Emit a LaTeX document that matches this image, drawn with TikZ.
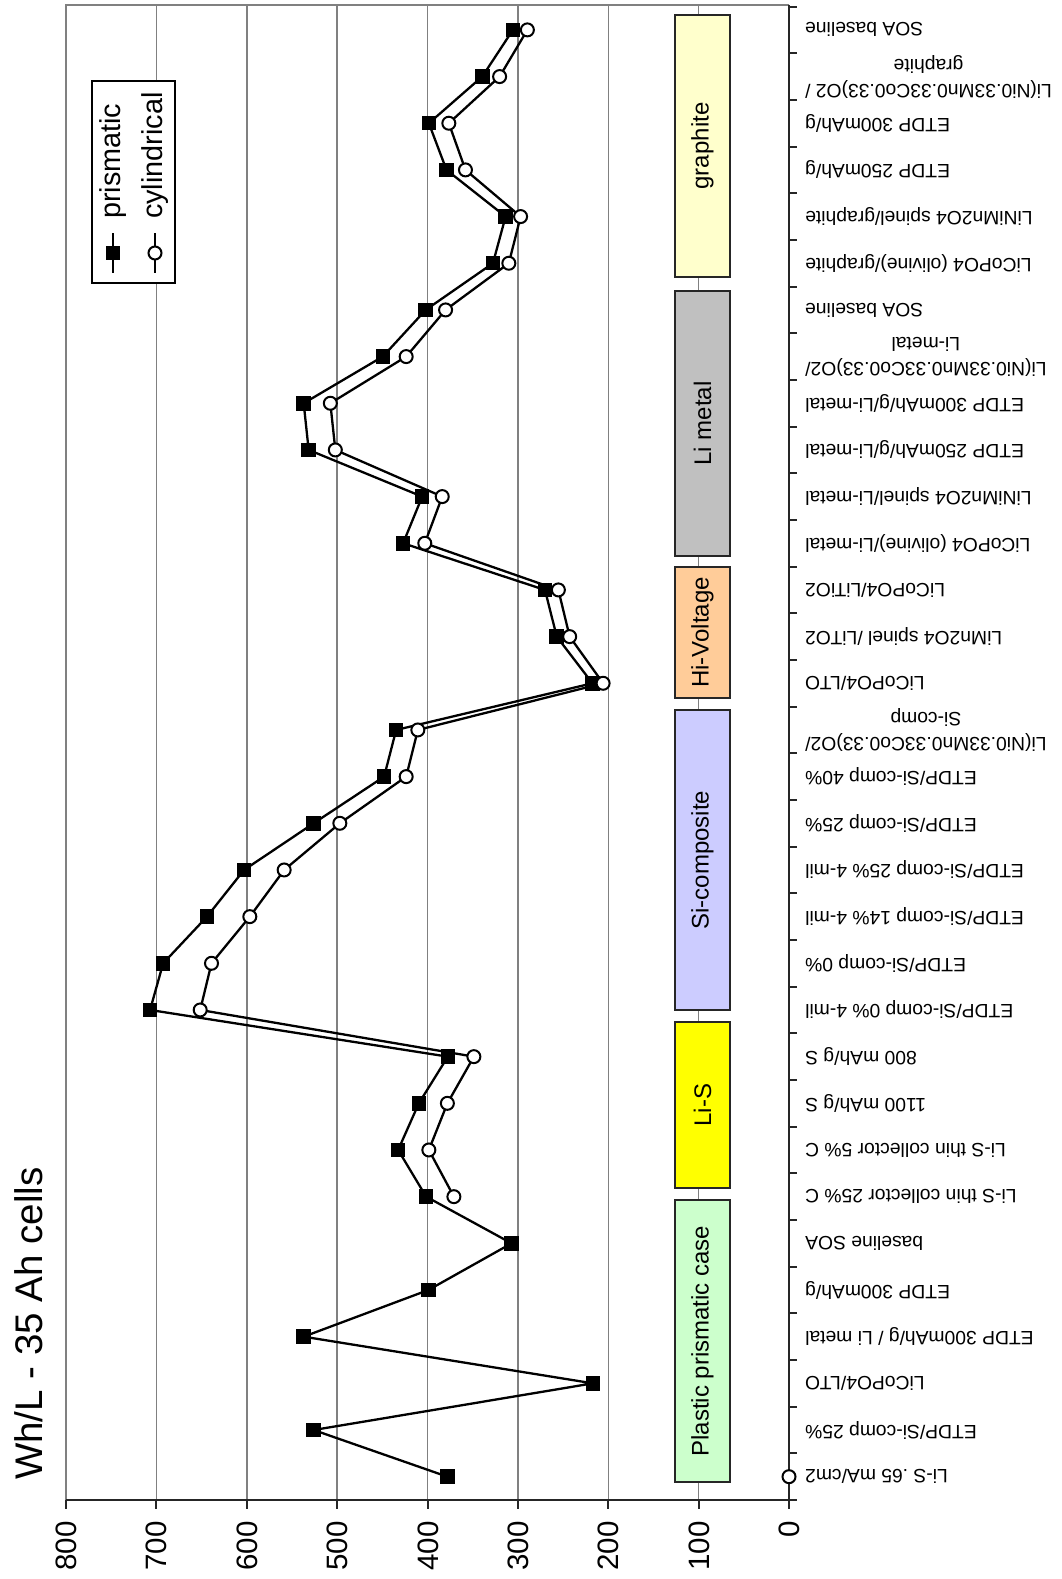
\documentclass[tikz,border=0pt]{standalone}
\usepackage{fontspec}
\setmainfont{Liberation Sans}
\definecolor{gridgray}{HTML}{808080}
\definecolor{cgraphite}{HTML}{FFFFCC}
\definecolor{climetal}{HTML}{C0C0C0}
\definecolor{chivolt}{HTML}{FFCC99}
\definecolor{csicomp}{HTML}{CCCCFF}
\definecolor{clis}{HTML}{FFFF00}
\definecolor{cplastic}{HTML}{CCFFCC}
\begin{document}
\begin{tikzpicture}[x=1pt,y=-1pt,
  gridline/.style={draw=gridgray,line width=1.5pt},
  axisline/.style={draw=black!85,line width=2pt},
  dataline/.style={draw=black,line width=2.3pt,line join=round},
  sqmark/.style={rectangle,fill=black,minimum size=14.5pt,inner sep=0pt},
  circmark/.style={circle,draw=black,fill=white,line width=2pt,minimum size=13pt,inner sep=0pt},
  groupbox/.style={rectangle,draw=black!85,line width=2pt,rotate=90,minimum height=55pt,inner sep=0pt,font=\fontsize{24}{28}\selectfont},
  catlabel/.style={rotate=180,anchor=east,align=center,inner sep=0pt,font=\fontsize{19.3}{25}\selectfont},
  vallabel/.style={rotate=90,anchor=base east,inner sep=0pt,font=\fontsize{29.5}{34}\selectfont},
  legtext/.style={rotate=90,anchor=west,inner sep=0pt,font=\fontsize{28.8}{34}\selectfont},
]
\useasboundingbox (0,0) rectangle (1062,1579);
\fill[white] (0,0) rectangle (1062,1579);
\def\xz{789}\def\sc{0.90375}\def\yb{1500}\def\ct{46.67}
% grid
\foreach \v in {100,200,...,700}
  \draw[gridline] ({\xz-\sc*\v},5) -- ({\xz-\sc*\v},\yb);
\draw[gridline] (66,\yb) -- (66,5) -- (\xz,5);
% axes
\draw[axisline] (\xz,5) -- (\xz,\yb);
\foreach \k in {0,...,32}
  \draw[axisline] (\xz,{\yb-\k*\ct}) -- ({\xz+8},{\yb-\k*\ct});
\draw[axisline] (66,\yb) -- (\xz,\yb);
\foreach \v in {0,100,...,800}{
  \draw[axisline] ({\xz-\sc*\v},\yb) -- ({\xz-\sc*\v},{\yb+9});
  \node[vallabel] (v\v) at ({\xz-\sc*\v+10.5},1521) {\v};
}
% category labels
\foreach \t [count=\i] in {
 {Li-S .65 mA/cm2},
 {ETDP/Si-comp 25\%},
 {LiCoPO4/LTO},
 {ETDP 300mAh/g / Li metal},
 {ETDP 300mAh/g},
 {baseline SOA},
 {Li-S thin collector 25\% C},
 {Li-S thin collector 5\% C},
 {1100 mAh/g S},
 {800 mAh/g S},
 {ETDP/Si-comp 0\% 4-mil},
 {ETDP/Si-comp 0\%},
 {ETDP/Si-comp 14\% 4-mil},
 {ETDP/Si-comp 25\% 4-mil},
 {ETDP/Si-comp 25\%},
 {ETDP/Si-comp 40\%},
 {Li(Ni0.33Mn0.33Co0.33)O2/\\Si-comp},
 {LiCoPO4/LTO},
 {LiMn2O4 spinel /LiTO2},
 {LiCoPO4/LiTiO2},
 {LiCoPO4 (olivine)/Li-metal},
 {LiNiMn2O4 spinel/Li-metal},
 {ETDP 250mAh/g/Li-metal},
 {ETDP 300mAh/g/Li-metal},
 {Li(Ni0.33Mn0.33Co0.33)O2/\\Li-metal},
 {SOA baseline},
 {LiCoPO4 (olivine)/graphite},
 {LiNiMn2O4 spinel/graphite},
 {ETDP 250mAh/g},
 {ETDP 300mAh/g},
 {Li(Ni0.33Mn0.33Co0.33)O2 /\\graphite},
 {SOA baseline}}
  \node[catlabel] (L\i) at (805,{\yb-(\i-0.5)*\ct}) {\t};
% group boxes
\node[groupbox,fill=cgraphite,minimum width=262pt] (gGraphite) at (702.5,146) {graphite};
\node[groupbox,fill=climetal,minimum width=265pt] (gLimetal) at (702.5,423.5) {Li metal};
\node[groupbox,fill=chivolt,minimum width=131pt] (gHiV) at (702.5,632.5) {Hi-Voltage};
\node[groupbox,fill=csicomp,minimum width=300pt] (gSi) at (702.5,860) {Si-composite};
\node[groupbox,fill=clis,minimum width=166pt] (gLiS) at (702.5,1105) {Li-S};
\node[groupbox,fill=cplastic,minimum width=282pt] (gPlastic) at (702.5,1341) {Plastic prismatic case};
% data: prismatic
\foreach \v [count=\i] in {378,526,217,537,399,307,401.5,432.5,409.6,377.5,707,692.5,644,603,526,448,434.7,217.5,257,270,427,405.9,531.5,537,449.5,402,327.6,313.6,379,398.5,339.4,305.5}
  \coordinate (P\i) at ({\xz-\sc*\v},{\yb-(\i-0.5)*\ct});
% data: cylindrical (categories 1 and 7-32)
\coordinate (C1) at (\xz,{\yb-0.5*\ct});
\foreach \v [count=\j] in {370.8,398.5,378,348.7,651.5,639,596.6,558.6,497,423.6,410.7,205.7,242.7,255.2,403,383.7,502,507.5,423.6,380,310,297,358,376.4,320.2,289.5}{
  \pgfmathtruncatemacro{\i}{\j+6}
  \coordinate (C\i) at ({\xz-\sc*\v},{\yb-(\i-0.5)*\ct});
}
\draw[dataline] (P1) \foreach \i in {2,...,32}{ -- (P\i)};
\draw[dataline] (C7) \foreach \i in {8,...,32}{ -- (C\i)};
\foreach \i in {1,...,32}
  \node[sqmark] (p\i) at (P\i) {};
\foreach \i in {1,7,8,...,32}
  \node[circmark] (c\i) at (C\i) {};
% legend
\draw[line width=1.3pt,fill=white] (92,81) rectangle (175,283);
\coordinate (lp1) at (113,233); \coordinate (lp2) at (113,273);
\coordinate (lc1) at (155,233); \coordinate (lc2) at (155,273);
\draw[dataline] (lp1) -- (lp2);
\draw[dataline] (lc1) -- (lc2);
\node[sqmark] (legp) at (113,253) {};
\node[circmark] (legc) at (155,253) {};
\node[legtext] (legpt) at (113,219) {prismatic};
\node[legtext] (legct) at (155,219) {cylindrical};
% title
\node[rotate=90,anchor=base west,inner sep=0pt,font=\fontsize{38.5}{46}\selectfont] (title) at (42,1480) {Wh/L - 35 Ah cells};
\end{tikzpicture}
\end{document}
